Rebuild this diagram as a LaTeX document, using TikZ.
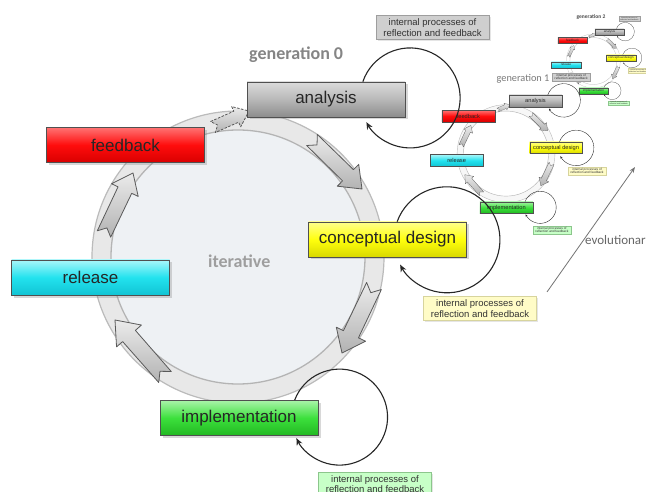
\documentclass[tikz,border=0pt]{standalone}
\usepackage{fontspec}
\setmainfont{Liberation Sans}
\newfontfamily\calib{Carlito}
\usetikzlibrary{calc,shadows,arrows.meta}
\definecolor{ringfill}{HTML}{E8E8E8}
\definecolor{ringline}{HTML}{BBBBBB}
\definecolor{innerfill}{HTML}{EEF1F4}
\definecolor{innerline}{HTML}{B4B4B4}
\definecolor{boxline}{HTML}{505050}
\definecolor{grntop}{HTML}{A8F4A8}
\definecolor{grnmid}{HTML}{3CE03C}
\definecolor{grnbot}{HTML}{22B822}
\definecolor{cyntop}{HTML}{A8F6FA}
\definecolor{cynmid}{HTML}{22E2EE}
\definecolor{cynbot}{HTML}{12C4D4}
\def\cysc{1}
\def\cyringfill{ringfill}
\def\cyinnerfill{innerfill}
\tikzset{
  stagebox/.style={draw=boxline, line width=0.7pt*\cysc, minimum width=158pt, minimum height=35pt,
    inner sep=0pt, font=\fontsize{17}{20}\selectfont, text=black!85,
    drop shadow={shadow xshift=2.5pt*\cysc, shadow yshift=-2.5pt*\cysc, opacity=0.3}},
  grayst/.style={stagebox, top color=black!14, bottom color=black!45, middle color=black!28},
  redst/.style={stagebox, top color=red!55!white, bottom color=red!85!black, middle color=red!95!white},
  cyanst/.style={stagebox, top color=cyntop, bottom color=cynbot, middle color=cynmid},
  yellowst/.style={stagebox, top color=yellow!45!white, bottom color=yellow!85!black, middle color=yellow!95!white},
  greenst/.style={stagebox, top color=grntop, bottom color=grnbot, middle color=grnmid},
  lablbox/.style={draw, line width=0.6pt*\cysc, minimum width=113pt, minimum height=24pt, inner sep=0pt,
    align=center, font=\fontsize{9.5}{10.5}\selectfont, text=black!80,
    drop shadow={shadow xshift=1.5pt*\cysc, shadow yshift=-1.5pt*\cysc, opacity=0.2}},
  loopline/.style={draw=black!85, line width=1.1pt*\cysc, -{Stealth[length=0pt 6.5, width=0pt 5.5]}},
  ringarr/.style={draw=black!65, line width=0.8pt*\cysc, top color=black!8, bottom color=black!30, line join=round},
  genlbl/.style={font=\calib\bfseries\fontsize{18}{20}\selectfont, text=black!48, inner sep=0pt},
}
\newcommand\ringarrow[3][]{%
  \coordinate (rT) at #2; \coordinate (rP) at #3;
  \coordinate (rH) at ($(rT)!0.72!(rP)$);
  \path[ringarr,#1] ($(rT)!0.11!90:(rP)$) -- ($(rH)!0.40!90:(rP)$) -- ($(rH)!0.78!90:(rP)$) -- (rP)
     -- ($(rH)!0.78!-90:(rP)$) -- ($(rH)!0.40!-90:(rP)$) -- ($(rT)!0.11!-90:(rP)$) -- ($(rT)!0.1!(rP)$) -- cycle;}
\newcommand\drawcycle{%
  \filldraw[fill=\cyringfill, draw=ringline, line width=1.2pt*\cysc] (238,-257) circle[radius=146];
  \filldraw[fill=\cyinnerfill, draw=innerline, line width=1.3pt*\cysc] (238,-257) circle[radius=127];
  \ringarrow{(312,-140)}{(362,-189)}
  \ringarrow{(374,-286)}{(342,-353)}
  \ringarrow{(165,-377)}{(115,-320)}
  \ringarrow{(104,-234)}{(133,-173)}
  \path[ringarr, dashed, dash pattern=on 2.5pt*\cysc off 1.5pt*\cysc] (210.6,-121.5) -- (233.8,-111.2) -- (231.7,-106.6) -- (249,-111)
     -- (240.7,-126.8) -- (238.6,-122.2) -- (215.4,-132.5) -- (217.6,-125) -- cycle;
  \node[grayst]   (an) at (326,-99.5)  {analysis};
  \node[redst]    (fb) at (125.5,-145) {feedback};
  \node[cyanst]   (rl) at (90.5,-277.5) {release};
  \node[yellowst] (cd) at (387.5,-239.5) {conceptual design};
  \node[greenst]  (im) at (239,-418)   {implementation};
  \draw[loopline] ($(an.north east)+(-42.5,0)$) arc[start angle=161, end angle=-151, radius=50];
  \draw[loopline] ($(cd.north west)+(89,0)$) arc[start angle=160, end angle=-152, radius=53];
  \draw[loopline] ($(im.north west)+(135,0)$) arc[start angle=159.3, end angle=-154, radius=48];
  \node[lablbox, fill=black!19, draw=black!38] (l1) at (432.5,-27.5) {internal processes of\\reflection and feedback};
  \node[lablbox, fill=yellow!22, draw=yellow!60!black!45] (l2) at (480,-308.5) {internal processes of\\reflection and feedback};
  \node[lablbox, fill=green!22, draw=green!50!black!45] (l3) at (375,-484) {internal processes of\\reflection and feedback};
}
\begin{document}
\begin{tikzpicture}[x=1pt, y=1pt]
  \useasboundingbox (0,0) rectangle (646,-492);
  \clip (0,0) rectangle (646,-492);
  \fill[white] (0,0) rectangle (646,-492);
  % generation 2
  \def\cysc{0.185}
  \def\cyringfill{white}
  \def\cyinnerfill{white}
  \begin{scope}[shift={(549.3,-13.5)}, scale=0.185, transform shape]
    \drawcycle
  \end{scope}
  \node[font=\calib\bfseries\fontsize{5.5}{6}\selectfont, text=black!70, inner sep=0pt] (g2) at (591,-17) {generation 2};
  % generation 1
  \def\cysc{0.335}
  \def\cyringfill{black!3}
  \def\cyinnerfill{white}
  \begin{scope}[shift={(426.3,-67.5)}, scale=0.335, transform shape]
    \drawcycle
  \end{scope}
  \node[font=\calib\fontsize{10.3}{12}\selectfont, text=black!52, inner sep=0pt] (g1) at (523,-79) {generation 1};
  % generation 0
  \def\cysc{1}
  \def\cyringfill{ringfill}
  \def\cyinnerfill{innerfill}
  \drawcycle
  \node[genlbl, anchor=base west] (g0) at (249,-60) {generation 0};
  \node[genlbl, text=black!38, anchor=base west] (it) at (208,-267) {iterative};
  % evolutionary arrow
  \coordinate (ev1) at (547,-292);
  \coordinate (ev2) at (635,-167);
  \draw[black!55, line width=0.8pt, -{Stealth[length=6pt, width=4.5pt]}] (ev1) -- (ev2);
  \node[font=\calib\fontsize{13}{15}\selectfont, text=black!60, anchor=base west, inner sep=0pt] (evo) at (585,-244) {evolutionary};
\end{tikzpicture}
\end{document}
